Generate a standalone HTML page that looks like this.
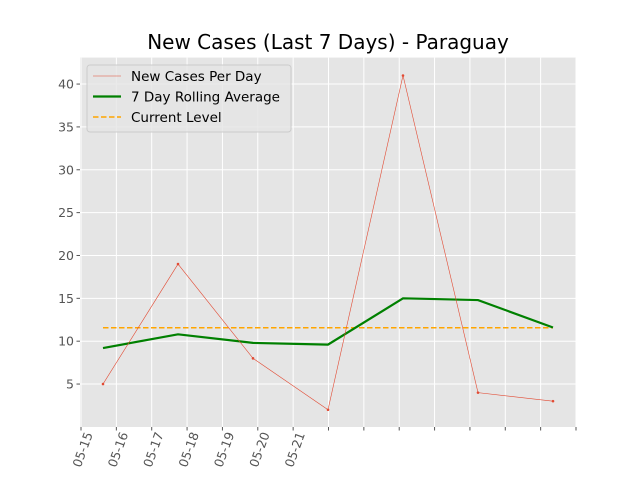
<!DOCTYPE html>
<html><head><meta charset="utf-8"><style>
body{margin:0;background:#fff;}
svg{font-family:"DejaVu Sans","Liberation Sans",sans-serif;}
</style></head><body>
<svg id="c" width="640" height="480"></svg>
<script>
const categories=["05-15","05-16","05-17","05-18","05-19","05-20","05-21"];
const newCases=[5,19,8,2,41,4,3];
const rolling=[9.2,10.8,9.8,9.6,15.0,14.8,11.6];
const currentLevel=[11.57];
const yTicks=[5,10,15,20,25,30,35,40];
const tickLabels=["05-15","05-16","05-17","05-18","05-19","05-20","05-21","","","","","","","",""];
const NS="http://www.w3.org/2000/svg";
const svg=document.getElementById('c');
const L=80,R=576,T=57.6,B=427;
const xs=i=>L+(i+0.3067)/6.6134*(R-L);
const ys=v=>426.9-v*8.571;
const tx=i=>L+1+i*(R-L-1)/14;
function el(t,a,p){const e=document.createElementNS(NS,t);for(const k in a)e.setAttribute(k,a[k]);(p||svg).appendChild(e);return e;}
let e;
e=el('rect',{x:L,y:T,width:R-L,height:B-T,fill:'#e5e5e5'});


yTicks.forEach(v=>{
 e=el('line',{x1:L,x2:R,y1:ys(v),y2:ys(v),stroke:'#fff','stroke-width':1});
 
 
 el('line',{x1:L-3.5,x2:L,y1:ys(v),y2:ys(v),stroke:'#555'});
 e=el('text',{x:L-6,y:ys(v)+4.5,'text-anchor':'end','font-size':12.5,fill:'#555'});e.textContent=v;
 
 
});
tickLabels.forEach((lab,i)=>{
 const x=tx(i);
 e=el('line',{x1:x,x2:x,y1:T,y2:B,stroke:'#fff','stroke-width':1});
 
 
 el('line',{x1:x,x2:x,y1:B,y2:B+3.5,stroke:'#555'});
 if(lab){
  e=el('text',{x:0,y:0,'text-anchor':'end','font-size':12.5,fill:'#555',transform:`translate(${x+12},${B+7}) rotate(-70)`});e.textContent=lab;
  
  
 }
});
e=el('line',{x1:xs(0),x2:xs(newCases.length-1),y1:ys(currentLevel[0]),y2:ys(currentLevel[0]),stroke:'orange','stroke-width':1.5,'stroke-dasharray':'5.5,2.5'});


e=el('polyline',{points:rolling.map((v,i)=>xs(i)+','+ys(v)).join(' '),fill:'none',stroke:'green','stroke-width':2.2});


e=el('polyline',{points:newCases.map((v,i)=>xs(i)+','+ys(v)).join(' '),fill:'none',stroke:'#e24a33','stroke-width':0.6});


newCases.forEach((v,i)=>{
 e=el('circle',{cx:xs(i),cy:ys(v),r:1.3,fill:'#e24a33'});
 
 
});
e=el('text',{x:328,y:49,'text-anchor':'middle','font-size':20,fill:'#000'});e.textContent='New Cases (Last 7 Days) - Paraguay';


const lg=el('g',{});


el('rect',{x:87,y:65,width:204,height:67,rx:3,fill:'#e5e5e5',stroke:'#ccc','stroke-width':1,'fill-opacity':0.8},lg);
const items=[["New Cases Per Day",'#e24a33',0.6,''],["7 Day Rolling Average",'green',2.2,''],["Current Level",'orange',1.5,'5.5,2.5']];
items.forEach((it,k)=>{
 const y=76+k*20.5;
 e=el('line',{x1:93,x2:121,y1:y,y2:y,stroke:it[1],'stroke-width':it[2],'stroke-dasharray':it[3]},lg);
 
 
 e=el('text',{x:131,y:y+5,'font-size':13.5,fill:'#000'},lg);e.textContent=it[0];
 
 
});
</script>
</body></html>
